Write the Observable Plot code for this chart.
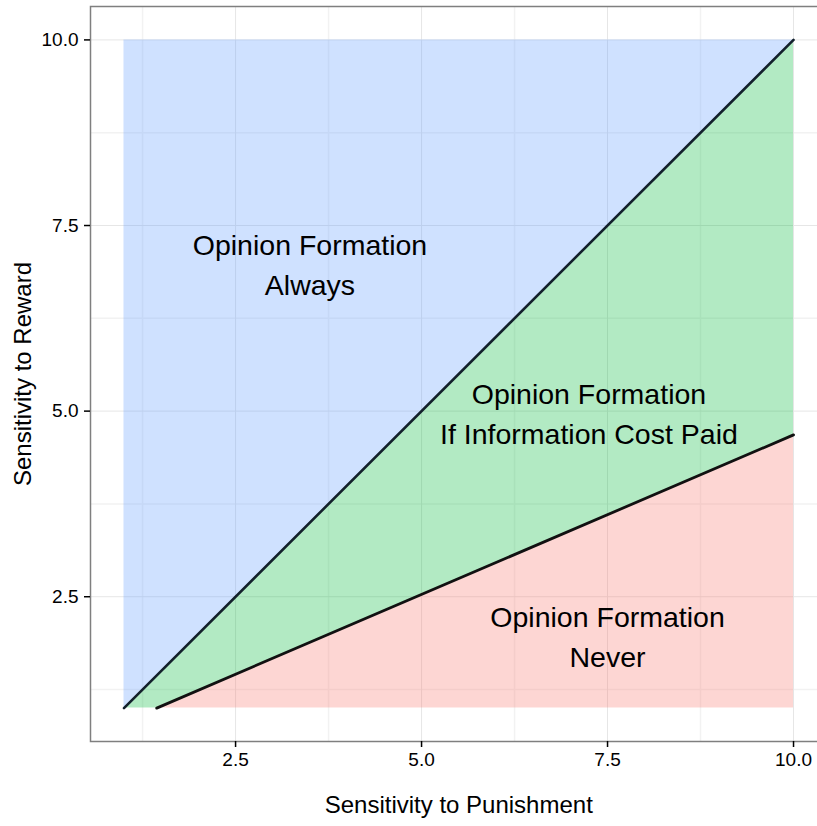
<!DOCTYPE html>
<html>
<head>
<meta charset="utf-8">
<script src="https://cdn.jsdelivr.net/npm/d3@7"></script>
<script src="https://cdn.jsdelivr.net/npm/@observablehq/plot@0.6"></script>
<style>
  html, body { margin: 0; padding: 0; background: #fff; overflow: hidden; }
  #chart svg { overflow: hidden; display: block; }
</style>
</head>
<body>
<div id="chart"></div>
<script>
// ---- data ----
const diagX = [1, 10];          // boundary: Always vs If Cost Paid
const diagY = [1, 10];
const lowerX = [1.44, 10];      // boundary: If Cost Paid vs Never
const lowerY = [1, 4.68];
const xMin = 1, xMax = 10, yMin = 1, yMax = 10;

const majorTicks = [2.5, 5, 7.5, 10];
const minorTicks = [1.25, 3.75, 6.25, 8.75];

const labelX = [3.5, 7.25, 7.5];
const labelY = [7, 5, 2];
const labelText = [
  "Opinion Formation\nAlways",
  "Opinion Formation\nIf Information Cost Paid",
  "Opinion Formation\nNever"
];
const xTitle = "Sensitivity to Punishment";
const yTitle = "Sensitivity to Reward";

// ---- region tables built from the boundaries ----
const blueRegion = [
  {x: diagX[0], y1: diagY[0], y2: yMax},
  {x: diagX[1], y1: diagY[1], y2: yMax}
];
const greenRegion = [
  {x: diagX[0], y1: yMin, y2: diagY[0]},
  {x: lowerX[0], y1: lowerY[0], y2: diagY[0] + (lowerX[0] - diagX[0]) * (diagY[1] - diagY[0]) / (diagX[1] - diagX[0])},
  {x: lowerX[1], y1: lowerY[1], y2: diagY[1]}
];
const redRegion = [
  {x: lowerX[0], y1: yMin, y2: lowerY[0]},
  {x: lowerX[1], y1: yMin, y2: lowerY[1]}
];
const diagLine = diagX.map((x, i) => ({x, y: diagY[i]}));
const lowerLine = lowerX.map((x, i) => ({x, y: lowerY[i]}));
const labels = labelText.map((t, i) => ({x: labelX[i], y: labelY[i], t}));

const FONT = "Helvetica, 'Liberation Sans', Arial, sans-serif";

const chart = Plot.plot({
  width: 817,
  height: 826,
  marginLeft: 90,
  marginRight: -9.5,
  marginTop: 6,
  marginBottom: 85,
  style: {fontFamily: FONT, fontSize: "19px", background: "#fff", color: "#000"},
  x: {domain: [0.55, 10.45], range: [90, 826.5]},
  y: {domain: [0.55, 10.45], range: [741, 6]},
  marks: [
    Plot.gridX(minorTicks, {stroke: "#f2f2f2", strokeOpacity: 1, strokeWidth: 1.5}),
    Plot.gridY(minorTicks, {stroke: "#f2f2f2", strokeOpacity: 1, strokeWidth: 1.5}),
    Plot.gridX(majorTicks, {stroke: "#e6e6e6", strokeOpacity: 1, strokeWidth: 1}),
    Plot.gridY(majorTicks, {stroke: "#e6e6e6", strokeOpacity: 1, strokeWidth: 1}),
    Plot.areaY(blueRegion, {x: "x", y1: "y1", y2: "y2", fill: "#619CFF", fillOpacity: 0.3}),
    Plot.areaY(greenRegion, {x: "x", y1: "y1", y2: "y2", fill: "#00BA38", fillOpacity: 0.3}),
    Plot.areaY(redRegion, {x: "x", y1: "y1", y2: "y2", fill: "#F8766D", fillOpacity: 0.3}),
    Plot.line(diagLine, {x: "x", y: "y", stroke: "#13202c", strokeWidth: 2.6}),
    Plot.line(lowerLine, {x: "x", y: "y", stroke: "#111", strokeWidth: 2.8}),
    Plot.text(labels, {x: "x", y: "y", text: "t", fontSize: 28.5, lineHeight: 1.4,
      fill: "#000", fontFamily: FONT, textAnchor: "middle", lineAnchor: "middle"}),
    Plot.frame({stroke: "#7f7f7f", strokeWidth: 1.5}),
    Plot.axisX(majorTicks, {tickFormat: d3.format(".1f"), tickSize: 6, tickPadding: 5,
      fontSize: 19, stroke: "#000", strokeWidth: 1.5, fill: "#000", label: null, fontFamily: FONT}),
    Plot.axisY(majorTicks, {tickFormat: d3.format(".1f"), tickSize: 6, tickPadding: 6,
      fontSize: 19, stroke: "#000", strokeWidth: 1.5, fill: "#000", label: null, fontFamily: FONT}),
    Plot.text([xTitle], {x: [5.5], frameAnchor: "bottom", dy: 64, text: d => d,
      textAnchor: "middle", lineAnchor: "middle",
      fontSize: 24, fill: "#000", fontFamily: FONT}),
    Plot.text([yTitle], {y: [5.5], frameAnchor: "left", dx: -67, rotate: -90, text: d => d,
      textAnchor: "middle", lineAnchor: "middle",
      fontSize: 24, fill: "#000", fontFamily: FONT})
  ]
});
document.getElementById("chart").appendChild(chart);
</script>
</body>
</html>
